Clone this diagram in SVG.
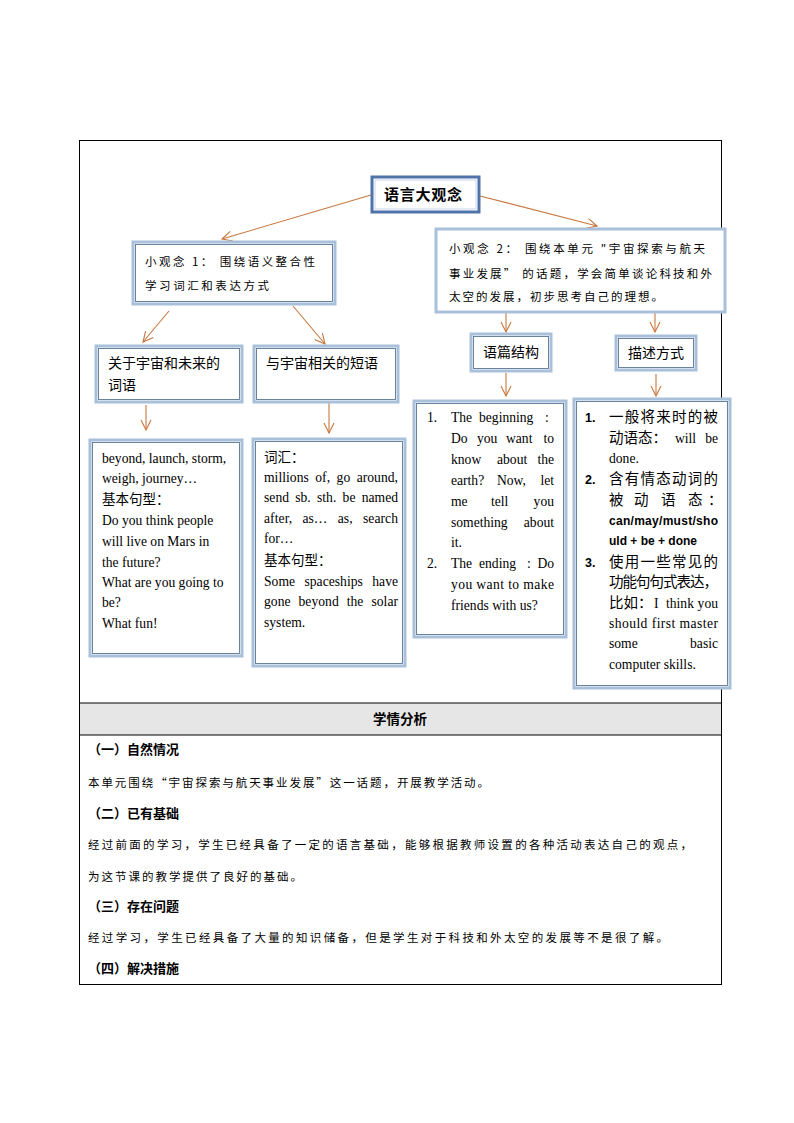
<svg xmlns="http://www.w3.org/2000/svg" width="794" height="1123" viewBox="0 0 794 1123">
<defs>
<marker id="ah" viewBox="0 0 12 12" refX="11" refY="6" markerWidth="12" markerHeight="12" markerUnits="userSpaceOnUse" orient="auto">
<path d="M1,1 L11,6 L1,11" fill="none" stroke="#c8773e" stroke-width="1.1"/>
</marker>
</defs>
<style>
.box{fill:#fff;stroke:#a9c0db;stroke-width:3}
.inner{fill:none;stroke:#5b7694;stroke-width:0.9}
.main{fill:#fff;stroke:#4f73a8;stroke-width:3}
.conn line{stroke:#c8773e;stroke-width:1.1;marker-end:url(#ah)}
.k{font-family:"Noto Sans CJK SC","Liberation Sans",sans-serif;fill:#000}
.s{font-family:"Liberation Serif","Noto Sans CJK SC",serif;fill:#000;font-size:13.6px}
.e{text-anchor:end}
.b{font-family:"Liberation Sans","Noto Sans CJK SC",sans-serif;font-weight:bold;fill:#000}
.frame{fill:none;stroke:#000;stroke-width:1}
</style>
<rect width="794" height="1123" fill="#fff"/>
<g id="frame">
<rect x="79.5" y="140.5" width="642" height="844" class="frame"/>
<rect x="80" y="703" width="641" height="32" fill="#e6e6e6"/>
<line x1="79.5" y1="703" x2="721.5" y2="703" stroke="#000"/>
<line x1="79.5" y1="735" x2="721.5" y2="735" stroke="#000"/>
</g>
<g class="conn" id="connectors">
<line x1="371" y1="195" x2="222" y2="239"/>
<line x1="480" y1="196" x2="597" y2="226"/>
<line x1="169" y1="311" x2="143" y2="342"/>
<line x1="293" y1="306" x2="325" y2="344"/>
<line x1="506" y1="310" x2="506" y2="332"/>
<line x1="655" y1="310" x2="655" y2="332"/>
<line x1="506" y1="373" x2="506" y2="396"/>
<line x1="656" y1="374" x2="656" y2="396"/>
<line x1="146" y1="405" x2="146" y2="430"/>
<line x1="329" y1="401" x2="329" y2="433"/>
</g>
<g id="main">
<rect x="372" y="177" width="107" height="35" class="main"/>
<rect x="375" y="180" width="101" height="29" fill="none" stroke="#c9d6e8" stroke-width="1"/>
<text x="384" y="200" class="k" font-size="15" font-weight="bold" textLength="78">语言大观念</text>
</g>
<g id="idea1">
<rect x="133" y="242" width="202" height="62" class="box"/>
<rect x="135.5" y="244.5" width="197" height="57" class="inner" stroke="#a9c0db"/>
<text x="145" y="266" class="k" font-size="11.5" textLength="170">小观念 1：  围绕语义整合性</text>
<text x="145" y="290" class="k" font-size="11.5" textLength="124">学习词汇和表达方式</text>
</g>
<g id="idea2">
<rect x="436" y="229" width="289" height="83" class="box"/>
<text x="449" y="253" class="k" font-size="11.5" textLength="256">小观念 2：  围绕本单元 "宇宙探索与航天</text>
<text x="449" y="278" class="k" font-size="11.5" textLength="263">事业发展” 的话题，学会简单谈论科技和外</text>
<text x="449" y="301" class="k" font-size="11.5" textLength="214">太空的发展，初步思考自己的理想。</text>
</g>
<g id="words">
<rect x="96" y="346" width="146" height="56" class="box"/>
<rect x="98.5" y="348.5" width="141" height="51" class="inner"/>
<text x="108" y="368" class="k" font-size="14">关于宇宙和未来的</text>
<text x="108" y="390" class="k" font-size="14">词语</text>
</g>
<g id="phrases">
<rect x="254" y="346" width="144" height="56" class="box"/>
<rect x="256.5" y="348.5" width="139" height="51" class="inner"/>
<text x="266" y="368" class="k" font-size="14">与宇宙相关的短语</text>
</g>
<g id="structure">
<rect x="471" y="334" width="80" height="37" class="box"/>
<rect x="473.5" y="336.5" width="75" height="32" class="inner"/>
<text x="511" y="357" class="k" font-size="14" text-anchor="middle">语篇结构</text>
</g>
<g id="describe">
<rect x="616" y="336" width="80" height="34" class="box"/>
<rect x="618.5" y="338.5" width="75" height="29" class="inner"/>
<text x="656" y="358" class="k" font-size="14" text-anchor="middle">描述方式</text>
</g>
<g id="words-detail">
<rect x="90" y="440" width="152" height="216" class="box"/>
<rect x="92.5" y="442.5" width="147" height="211" class="inner"/>
<text x="102" y="463" class="s">beyond, launch, storm,</text>
<text x="102" y="483" class="s">weigh, journey…</text>
<text x="102" y="504" class="k" font-size="13.5">基本句型：</text>
<text x="102" y="525" class="s">Do you think people</text>
<text x="102" y="546" class="s">will live  on Mars in</text>
<text x="102" y="567" class="s">the future?</text>
<text x="102" y="587" class="s">What are you going to</text>
<text x="102" y="607" class="s">be?</text>
<text x="102" y="628" class="s">What fun!</text>
</g>
<g id="phrases-detail">
<rect x="253" y="439" width="152" height="227" class="box"/>
<rect x="255.5" y="441.5" width="147" height="222" class="inner"/>
<text x="264" y="462" class="k" font-size="13.5">词汇：</text>
<text x="264" y="482" class="s" word-spacing="3" textLength="134">millions of, go around,</text>
<text x="264" y="502" class="s" word-spacing="2.8" textLength="134">send sb. sth. be named</text>
<text x="264" y="523" class="s" word-spacing="6.8" textLength="134">after, as… as, search</text>
<text x="264" y="543" class="s">for…</text>
<text x="264" y="565" class="k" font-size="13.5">基本句型：</text>
<text x="264" y="586" class="s" word-spacing="6" textLength="134">Some spaceships have</text>
<text x="264" y="606" class="s" word-spacing="4.6" textLength="134">gone beyond the solar</text>
<text x="264" y="627" class="s">system.</text>
</g>
<g id="structure-detail">
<rect x="414" y="401" width="152" height="236" class="box"/>
<rect x="416.5" y="403.5" width="147" height="231" class="inner"/>
<text x="427" y="422" class="s">1.</text>
<text x="451" y="422" class="s">The</text><text x="479" y="422" class="s">beginning</text><text x="545" y="422" class="s">:</text>
<text x="451" y="443" class="s">Do</text><text x="477" y="443" class="s">you</text><text x="506" y="443" class="s">want</text><text x="554" y="443" class="s e">to</text>
<text x="451" y="464" class="s">know</text><text x="497" y="464" class="s">about</text><text x="554" y="464" class="s e">the</text>
<text x="451" y="485" class="s">earth?</text><text x="497" y="485" class="s">Now,</text><text x="554" y="485" class="s e">let</text>
<text x="451" y="506" class="s">me</text><text x="491" y="506" class="s">tell</text><text x="554" y="506" class="s e">you</text>
<text x="451" y="527" class="s">something</text><text x="554" y="527" class="s e">about</text>
<text x="451" y="547" class="s">it.</text>
<text x="427" y="568" class="s">2.</text>
<text x="451" y="568" class="s">The</text><text x="479" y="568" class="s">ending</text><text x="527" y="568" class="s">:</text><text x="554" y="568" class="s e">Do</text>
<text x="451" y="589" class="s" textLength="103">you want to make</text>
<text x="451" y="610" class="s">friends with us?</text>
</g>
<g id="describe-detail">
<rect x="574" y="399" width="156" height="289" class="box"/>
<rect x="576.5" y="401.5" width="151" height="284" class="inner"/>
<text x="585" y="422" class="b" font-size="12.5">1.</text>
<text x="609" y="422" class="k" font-size="14.5" textLength="109">一般将来时的被</text>
<text x="609" y="443" class="k" font-size="14.5">动语态：</text>
<text x="675" y="443" class="s">will</text><text x="718" y="443" class="s e">be</text>
<text x="609" y="463" class="s">done.</text>
<text x="585" y="484" class="b" font-size="12.5">2.</text>
<text x="609" y="484" class="k" font-size="14.5" textLength="109">含有情态动词的</text>
<text x="609" y="505" class="k" font-size="14.5">被</text><text x="634" y="505" class="k" font-size="14.5">动</text><text x="661" y="505" class="k" font-size="14.5">语</text><text x="688" y="505" class="k" font-size="14.5">态</text><text x="708" y="505" class="k" font-size="14.5">：</text>
<text x="609" y="525" class="b" font-size="12" textLength="109">can/may/must/sho</text>
<text x="609" y="545" class="b" font-size="12">uld + be + done</text>
<text x="585" y="567" class="b" font-size="12.5">3.</text>
<text x="609" y="567" class="k" font-size="14.5" textLength="109">使用一些常见的</text>
<text x="609" y="587" class="k" font-size="14.5" textLength="109">功能句句式表达，</text>
<text x="609" y="608" class="k" font-size="14.5">比如：</text>
<text x="654" y="608" class="s">I</text><text x="666" y="608" class="s">think</text><text x="718" y="608" class="s e">you</text>
<text x="609" y="628" class="s" textLength="109">should first master</text>
<text x="609" y="648" class="s">some</text><text x="718" y="648" class="s e">basic</text>
<text x="609" y="669" class="s">computer skills.</text>
</g>
<g id="analysis">
<text x="400" y="724" class="k" font-size="13.5" font-weight="bold" text-anchor="middle">学情分析</text>
<text x="88" y="754" class="k" font-size="13" font-weight="bold">（一）自然情况</text>
<text x="88" y="787" class="k" font-size="11.5" textLength="401">本单元围绕“宇宙探索与航天事业发展”这一话题，开展教学活动。</text>
<text x="88" y="818" class="k" font-size="13" font-weight="bold">（二）已有基础</text>
<text x="88" y="849" class="k" font-size="11.5" textLength="604">经过前面的学习，学生已经具备了一定的语言基础，能够根据教师设置的各种活动表达自己的观点，</text>
<text x="88" y="881" class="k" font-size="11.5" textLength="214">为这节课的教学提供了良好的基础。</text>
<text x="88" y="911" class="k" font-size="13" font-weight="bold">（三）存在问题</text>
<text x="88" y="942" class="k" font-size="11.5" textLength="580">经过学习，学生已经具备了大量的知识储备，但是学生对于科技和外太空的发展等不是很了解。</text>
<text x="88" y="973" class="k" font-size="13" font-weight="bold">（四）解决措施</text>
</g>
</svg>
